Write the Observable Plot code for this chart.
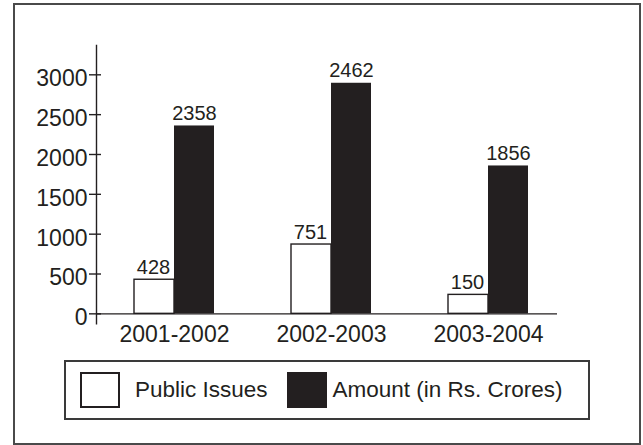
<!DOCTYPE html>
<html>
<head>
<meta charset="utf-8">
<script src="https://cdn.jsdelivr.net/npm/d3@7"></script>
<script src="https://cdn.jsdelivr.net/npm/@observablehq/plot@0.6"></script>
<style>
  html, body { margin: 0; padding: 0; background: #fff; }
  body { width: 643px; height: 445px; position: relative; overflow: hidden;
         font-family: "Liberation Sans", Arial, sans-serif; color: #231f20; }
  #frame { position: absolute; left: 13px; top: 3px; width: 628px; height: 442px;
           border: 2px solid #4a4a4a; box-sizing: border-box; }
  #chart { position: absolute; left: 0; top: 0; }
  #legend { position: absolute; left: 64px; top: 360px; width: 526px; height: 60px;
            border: 2px solid #3a3a3a; box-sizing: border-box;
            display: flex; align-items: center; padding-left: 14px; font-size: 22.5px; }
  .sw { width: 40px; height: 36px; box-sizing: border-box; border: 2px solid #231f20; flex: none; }
  .lab { white-space: nowrap; }
</style>
</head>
<body>
<div id="frame"></div>
<div id="chart"></div>
<div id="legend"></div>
<script>
const years = ["2001-2002", "2002-2003", "2003-2004"];
const seriesNames = ["Public Issues", "Amount (in Rs. Crores)"];
const seriesFills = ["#ffffff", "#231f20"];
// printed value labels
const publicIssues = [428, 751, 150];
const amount = [2358, 2462, 1856];
// bar heights as drawn in the picture (read against the axis)
const publicBar = [428, 870, 238];
const amountBar = [2358, 2894, 1856];
const yTicks = [0, 500, 1000, 1500, 2000, 2500, 3000];

const rows = years.map((year, i) => ({
  year, pub: publicBar[i], amt: amountBar[i],
  pubLabel: String(publicIssues[i]), amtLabel: String(amount[i])
}));

const ink = "#231f20";
const chart = Plot.plot({
  width: 643,
  height: 345,
  marginLeft: 96,
  marginRight: 86,
  marginTop: 45,
  marginBottom: 21.7,
  style: { fontFamily: "'Liberation Sans', Arial, sans-serif", fontSize: "23px", color: ink, background: "transparent", overflow: "visible" },
  x: { domain: years, paddingInner: 0.492, paddingOuter: 0.21, align: 0.565, label: null },
  y: { domain: [-125, 3368], label: null },
  marks: [
    Plot.barY(rows, { x: "year", y: "pub", fill: seriesFills[0], stroke: ink, strokeWidth: 1.4, insetRight: 40 }),
    Plot.barY(rows, { x: "year", y: "amt", fill: seriesFills[1], insetLeft: 40 }),
    Plot.ruleY([0], { stroke: ink, strokeWidth: 1.4 }),
    Plot.frame({ anchor: "left", stroke: ink, strokeWidth: 1.4 }),
    Plot.axisY({ ticks: yTicks, tickSize: 0, tickPadding: 9, dy: 4, fontSize: 23, fill: ink, label: null, tickFormat: d3.format("d") }),
    Plot.axisY({ ticks: yTicks, tickSize: 12, dx: 5, tickFormat: () => "", stroke: ink, strokeWidth: 1.4, label: null }),
    Plot.axisX({ tickSize: 0, tickPadding: 2, fontSize: 23, fill: ink, label: null }),
    Plot.text(rows, { x: "year", y: "pub", text: "pubLabel", dx: -21, dy: -6, lineAnchor: "bottom", fontSize: 20, fill: ink }),
    Plot.text(rows, { x: "year", y: "amt", text: "amtLabel", dx: 20, dy: -6, lineAnchor: "bottom", fontSize: 20, fill: ink })
  ]
});
document.getElementById("chart").appendChild(chart);

const legend = document.getElementById("legend");
const gaps = [[0, 15], [19, 6]];
seriesNames.forEach((name, i) => {
  const sw = document.createElement("div");
  sw.className = "sw";
  sw.style.background = seriesFills[i];
  sw.style.marginLeft = gaps[i][0] + "px";
  const lab = document.createElement("span");
  lab.className = "lab";
  lab.textContent = name;
  lab.style.marginLeft = gaps[i][1] + "px";
  legend.appendChild(sw);
  legend.appendChild(lab);
});
</script>
</body>
</html>
